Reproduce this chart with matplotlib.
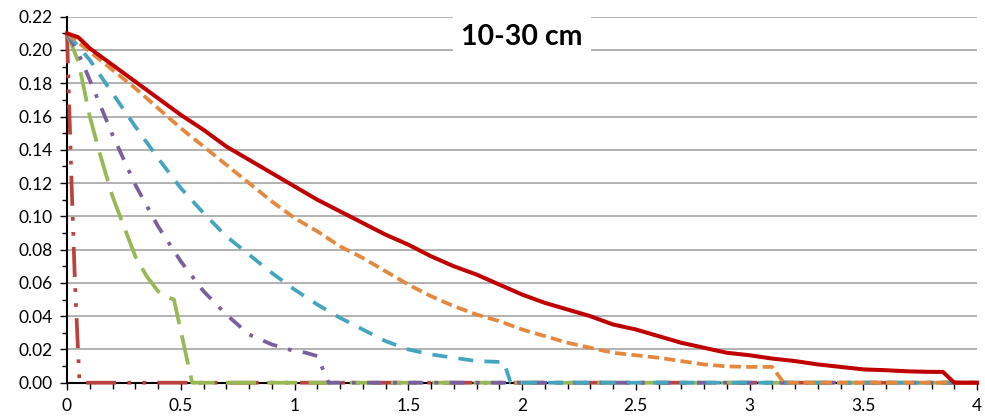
import matplotlib
matplotlib.use("Agg")
import matplotlib.pyplot as plt
from matplotlib.ticker import MultipleLocator, FixedLocator

plt.rcParams['font.family'] = ['Lato', 'DejaVu Sans']

title = "10-30 cm"

# Series (drawn back to front)
brick_x = [0, 0.02, 0.035, 0.05, 0.055, 4.0]
brick_y = [0.210, 0.120, 0.060, 0.015, 0.0, 0.0]

green_x = [0, 0.05, 0.10, 0.15, 0.20, 0.25, 0.30, 0.35, 0.40, 0.45, 0.47, 0.55, 4.0]
green_y = [0.210, 0.193, 0.160, 0.135, 0.112, 0.094, 0.076, 0.064, 0.055, 0.051, 0.050, 0.0, 0.0]

purple_x = [0, 0.05, 0.10, 0.20, 0.30, 0.40, 0.50, 0.60, 0.70, 0.80, 0.90, 1.00, 1.05, 1.10, 1.15, 4.0]
purple_y = [0.210, 0.198, 0.182, 0.149, 0.119, 0.094, 0.073, 0.055, 0.041, 0.029, 0.023, 0.019, 0.018, 0.016, 0.0, 0.0]

teal_x = [0, 0.1, 0.2, 0.3, 0.4, 0.5, 0.6, 0.7, 0.8, 0.9, 1.0, 1.1, 1.2, 1.3, 1.4, 1.5,
          1.6, 1.7, 1.8, 1.9, 1.92, 1.95, 4.0]
teal_y = [0.210, 0.194, 0.174, 0.154, 0.135, 0.117, 0.102, 0.088, 0.077, 0.066, 0.056, 0.047,
          0.039, 0.032, 0.025, 0.020, 0.017, 0.015, 0.013, 0.0125, 0.0125, 0.0, 0.0]

orange_x = [0, 0.1, 0.2, 0.3, 0.4, 0.5, 0.6, 0.7, 0.8, 0.9, 1.0, 1.1, 1.2, 1.3, 1.4, 1.5,
            1.6, 1.7, 1.8, 1.9, 2.0, 2.1, 2.2, 2.3, 2.4, 2.5, 2.6, 2.7, 2.8, 2.9, 3.0, 3.1,
            3.15, 4.0]
orange_y = [0.210, 0.199, 0.188, 0.177, 0.165, 0.153, 0.142, 0.131, 0.120, 0.109, 0.099,
            0.091, 0.082, 0.075, 0.067, 0.059, 0.052, 0.046, 0.041, 0.037, 0.032, 0.028,
            0.024, 0.021, 0.018, 0.0165, 0.015, 0.013, 0.011, 0.0098, 0.0095, 0.0095,
            0.0, 0.0]

red_x = [0, 0.05, 0.1, 0.2, 0.3, 0.4, 0.5, 0.6, 0.7, 0.8, 0.9, 1.0, 1.1, 1.2, 1.3, 1.4,
         1.5, 1.6, 1.7, 1.8, 1.9, 2.0, 2.1, 2.2, 2.3, 2.4, 2.5, 2.6, 2.7, 2.8, 2.9, 3.0,
         3.1, 3.2, 3.3, 3.4, 3.5, 3.6, 3.7, 3.8, 3.85, 3.9, 4.0]
red_y = [0.210, 0.2076, 0.201, 0.191, 0.181, 0.171, 0.161, 0.152, 0.142, 0.134, 0.126,
         0.118, 0.110, 0.103, 0.096, 0.089, 0.083, 0.076, 0.070, 0.065, 0.059, 0.053,
         0.048, 0.044, 0.040, 0.035, 0.032, 0.028, 0.024, 0.021, 0.018, 0.0165, 0.0145,
         0.013, 0.011, 0.0095, 0.008, 0.0075, 0.0068, 0.0065, 0.0065, 0.0, 0.0]

x_ticks = [0, 0.5, 1, 1.5, 2, 2.5, 3, 3.5, 4]
x_tick_labels = ["0", "0.5", "1", "1.5", "2", "2.5", "3", "3.5", "4"]
y_ticks = [0.00, 0.02, 0.04, 0.06, 0.08, 0.10, 0.12, 0.14, 0.16, 0.18, 0.20, 0.22]
y_tick_labels = ["%.2f" % v for v in y_ticks]

fig = plt.figure(figsize=(9.85, 4.17), dpi=100)
ax = fig.add_axes([67 / 985, 1 - 382.7 / 417, 910 / 985, 366 / 417])

lw = 2.7
series = [
    (brick_x, brick_y, "#B9443F", (0, (8, 3, 1, 3, 1, 3))),
    (green_x, green_y, "#97B955", (0, (8, 3))),
    (purple_x, purple_y, "#7A5E9E", (0, (4, 3, 1, 3))),
    (teal_x, teal_y, "#44A5BF", (0, (4, 3))),
    (orange_x, orange_y, "#E5883E", (0, (3, 1.4))),
    (red_x, red_y, "#C00000", "-"),
]
for i, (xs, ys, col, ls) in enumerate(series):
    ax.plot(xs, ys, color=col, linestyle=ls, linewidth=lw if ls != "-" else 2.9,
            zorder=4 + i, clip_on=False, solid_joinstyle="round", dash_capstyle="butt")

ax.set_xlim(0, 4)
ax.set_ylim(0, 0.22)

ax.xaxis.set_major_locator(FixedLocator(x_ticks))
ax.set_xticklabels(x_tick_labels)
ax.xaxis.set_minor_locator(MultipleLocator(0.1))
ax.yaxis.set_major_locator(FixedLocator(y_ticks))
ax.set_yticklabels(y_tick_labels)
ax.yaxis.set_minor_locator(MultipleLocator(0.01))

ax.tick_params(axis="both", which="major", labelsize=12.5, colors="black", width=1.0)
ax.tick_params(axis="x", which="major", length=5, pad=6)
ax.tick_params(axis="x", which="minor", length=4, width=1.0)
ax.tick_params(axis="y", which="major", length=5, pad=5)
ax.tick_params(axis="y", which="minor", length=3.5, width=1.0)

ax.grid(axis="y", which="major", color="#9C9C9C", linewidth=1.1, zorder=1)
ax.set_axisbelow(True)

for side in ("top", "right"):
    ax.spines[side].set_visible(False)
for side in ("left", "bottom"):
    ax.spines[side].set_linewidth(1.5)
    ax.spines[side].set_color("black")
    ax.spines[side].set_zorder(3)

ax.text(2.0, 0.208, title, ha="center", va="center", fontsize=20.5, fontweight="bold",
        zorder=20, bbox=dict(boxstyle="square,pad=0.3", facecolor="white", edgecolor="none"))

fig.savefig("out.png", dpi=100)
